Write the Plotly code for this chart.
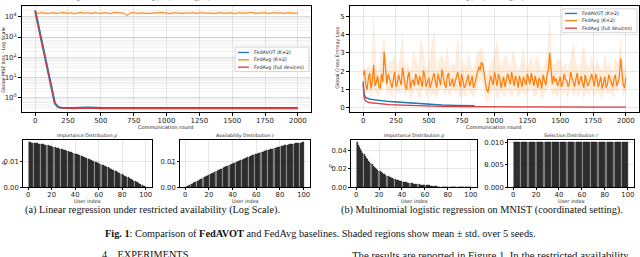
import numpy as np
import plotly.graph_objects as go

W, H = 640, 257

# ---------------- data ----------------
# Linear regression (top-left), log-scale loss
lr_rounds = [0, 25, 50, 75, 100, 125, 150, 175, 200, 300, 400, 500, 600, 700, 800, 900, 1000,
             1100, 1200, 1300, 1400, 1500, 1600, 1700, 1800, 1900, 2000]
lr_fedavot = [2.0e4, 3400, 590, 100, 17, 2.9, 0.55, 0.36, 0.33, 0.32, 0.34, 0.32, 0.32, 0.33,
              0.32, 0.32, 0.34, 0.32, 0.33, 0.32, 0.32, 0.34, 0.32, 0.32, 0.33, 0.32, 0.32]
lr_fedavg_full = [2.0e4, 3300, 570, 96, 16, 2.8, 0.53, 0.35, 0.32, 0.31, 0.31, 0.31, 0.31, 0.31,
                  0.31, 0.31, 0.31, 0.31, 0.31, 0.31, 0.31, 0.31, 0.31, 0.31, 0.31, 0.31, 0.31]
lr_fedavg_k2 = [1.55, 1.48, 1.60, 1.50, 1.42, 1.58, 1.52, 1.45, 1.62, 1.50, 1.47, 1.56, 1.40, 1.53,
                1.60, 1.49, 1.55, 1.44, 1.58, 1.51, 1.46, 1.57, 1.50, 1.43, 1.59, 1.52, 1.48, 1.50,
                1.15, 1.50, 1.60, 1.45, 1.53, 1.49, 1.58, 1.44, 1.52, 1.56, 1.47, 1.60, 1.50, 1.42,
                1.55, 1.50, 1.58, 1.46, 1.53, 1.49, 1.61, 1.45, 1.52, 1.57, 1.48, 1.55, 1.50, 1.44,
                1.59, 1.51, 1.47, 1.56, 1.50, 1.43, 1.58, 1.52, 1.48, 1.55, 1.60, 1.46, 1.53, 1.50,
                1.57, 1.45, 1.52, 1.58, 1.49, 1.55, 1.44, 1.60, 1.50, 1.53, 1.48]  # x 1e4
lr_fedavg_k2_rel_std = 0.12

# MNIST (top-right)
mn_fedavg_k2 = [1.78, 2.05, 1.25, 1.00, 1.62, 1.90, 1.05, 1.50, 2.35, 1.20,
                1.40, 1.75, 1.15, 1.05, 1.85, 1.40, 3.05, 2.00, 1.30, 1.85,
                1.60, 1.30, 1.10, 1.55, 1.95, 1.15, 1.35, 1.80, 1.50, 1.25,
                2.20, 1.65, 1.20, 1.00, 1.70, 1.95, 1.05, 1.40, 1.55, 1.20,
                1.85, 1.60, 1.25, 1.75, 1.45, 1.15, 2.05, 1.70, 1.15, 1.40,
                1.65, 1.10, 1.35, 1.60, 1.90, 1.45, 1.10, 1.85, 1.55, 1.25,
                2.10, 1.65, 1.30, 1.10, 1.70, 1.90, 1.20, 1.35, 1.60, 1.15,
                1.45, 1.70, 1.95, 1.50, 1.15, 1.85, 1.50, 1.10, 1.25, 1.55,
                1.80, 1.20, 1.40, 1.75, 1.10, 1.30, 1.65, 1.95, 2.25, 2.05,
                2.50, 2.35, 1.90, 1.40, 1.00, 0.85, 1.35, 1.75, 1.55, 1.25,
                1.95, 1.60, 1.20, 1.85, 1.60, 1.10, 1.40, 1.70, 1.15, 1.45,
                1.85, 1.60, 1.30, 1.95, 1.50, 1.20, 1.75, 1.50, 1.10, 1.75,
                1.45, 1.15, 1.70, 1.50, 1.25, 1.85, 1.55, 1.30, 1.90, 1.55,
                1.20, 1.75, 1.40, 1.10, 1.65, 1.45, 1.05, 1.80, 1.50, 1.25,
                1.80, 2.10, 3.00, 2.20, 1.30, 1.75, 1.45, 1.60, 1.20, 1.40,
                1.70, 1.15, 1.35, 1.85, 1.55, 1.50, 1.15, 1.35, 1.95, 1.65,
                1.40, 1.15, 1.60, 1.90, 1.25, 1.45, 1.75, 1.35, 1.10, 1.80,
                1.50, 1.20, 1.35, 1.55, 1.85, 1.50, 1.20, 1.85, 1.60, 1.15,
                1.45, 1.70, 1.05, 1.35, 1.70, 1.10, 1.30, 1.80, 1.55, 1.40,
                1.15, 1.60, 1.80, 1.20, 1.40, 1.65, 2.70, 1.90, 1.25, 1.10,
                1.65]
mn_fedavg_k2_hi = [2.2, 2.0, 2.4, 2.1, 5.2, 2.3, 2.0, 3.2, 3.9, 2.2,
                   2.5, 2.6, 3.0, 2.1, 2.8, 4.1, 2.0, 2.6, 1.9, 3.1,
                   2.7, 2.2, 3.9, 2.9, 2.1, 2.5, 3.3, 4.3, 2.0, 2.6,
                   3.0, 2.4, 3.4, 2.1, 2.5, 2.3, 4.2, 2.0, 2.7, 2.2,
                   3.0, 2.3, 2.1, 2.8, 3.1, 3.3, 2.9, 1.7, 2.2, 2.6,
                   2.9, 3.8, 2.4, 2.3, 2.9, 2.7, 2.2, 3.2, 2.6, 2.0,
                   2.5, 3.4, 2.1, 2.5, 2.8, 2.1, 3.0, 2.6, 1.9, 2.4,
                   2.8, 5.1, 2.3, 2.4, 2.6, 2.7, 2.2, 2.5, 2.0, 2.9,
                   3.6, 2.5, 2.1, 2.7, 3.5, 2.4, 2.2, 2.9, 2.1, 2.6,
                   2.3, 2.0, 3.0, 2.2, 2.5, 2.0, 2.8, 2.4, 4.0, 2.1, 2.3]
mn_fedavg_k2_lo = [1.4, 0.7, 1.0, 0.5, 1.0, 0.8, 0.6, 1.0, 1.6, 0.7,
                   0.9, 0.5, 1.1, 0.8, 0.8, 1.0, 0.6, 1.0, 0.4, 0.8,
                   1.0, 0.6, 0.5, 1.2, 0.5, 1.0, 0.6, 0.8, 0.5, 0.9,
                   1.2, 0.7, 0.9, 0.6, 1.0, 0.8, 0.9, 0.5, 0.8, 0.6,
                   1.0, 0.8, 0.5, 1.0, 1.4, 1.6, 0.9, 0.3, 0.6, 0.9,
                   1.1, 0.4, 0.9, 0.8, 0.5, 1.0, 0.7, 0.7, 1.0, 0.5,
                   0.8, 0.9, 0.6, 0.9, 1.1, 0.6, 0.7, 1.0, 0.4, 0.8,
                   1.0, 1.3, 0.7, 0.8, 0.5, 1.0, 0.7, 0.9, 0.5, 1.1,
                   0.6, 0.9, 0.6, 1.0, 0.4, 0.9, 0.7, 1.0, 0.6, 0.9,
                   0.8, 0.4, 1.0, 0.7, 0.9, 0.5, 1.0, 0.8, 1.5, 0.6, 1.0]

mn_avot_rounds = [0, 3, 8, 15, 25, 50, 100, 150, 200, 300, 400, 500, 600, 700, 800, 850]
mn_fedavot = [1.45, 1.0, 0.75, 0.62, 0.55, 0.48, 0.42, 0.39, 0.35, 0.30, 0.24, 0.19, 0.16, 0.14, 0.12, 0.12]
mn_fedavot_std = [0.06, 0.08, 0.07, 0.06, 0.05, 0.05, 0.04, 0.04, 0.04, 0.03, 0.03, 0.03, 0.02, 0.02, 0.02, 0.02]
mn_full_rounds = [0, 3, 8, 15, 25, 50, 100, 150, 200, 300, 400, 500, 600, 800, 1000, 1250, 1500, 1750, 2000]
mn_fedavg_full = [1.3, 0.8, 0.55, 0.42, 0.35, 0.29, 0.24, 0.21, 0.18, 0.15, 0.12, 0.10, 0.09, 0.07,
                  0.06, 0.05, 0.045, 0.04, 0.04]
mn_fedavg_full_std = [0.05, 0.07, 0.06, 0.05, 0.05, 0.04, 0.04, 0.03, 0.03, 0.03, 0.02, 0.02, 0.02,
                      0.02, 0.02, 0.02, 0.02, 0.02, 0.02]

users = list(range(1, 101))
lr_p = [0.01748, 0.01745, 0.01741, 0.01736, 0.01730, 0.01724, 0.01718, 0.01710, 0.01703, 0.01695,
        0.01686, 0.01677, 0.01668, 0.01658, 0.01648, 0.01638, 0.01627, 0.01616, 0.01605, 0.01594,
        0.01582, 0.01569, 0.01557, 0.01544, 0.01531, 0.01518, 0.01504, 0.01491, 0.01477, 0.01462,
        0.01448, 0.01433, 0.01418, 0.01403, 0.01388, 0.01372, 0.01356, 0.01340, 0.01324, 0.01307,
        0.01291, 0.01274, 0.01257, 0.01239, 0.01222, 0.01204, 0.01186, 0.01168, 0.01150, 0.01131,
        0.01113, 0.01094, 0.01075, 0.01056, 0.01036, 0.01017, 0.00997, 0.00977, 0.00957, 0.00937,
        0.00916, 0.00896, 0.00875, 0.00854, 0.00833, 0.00812, 0.00790, 0.00769, 0.00747, 0.00725,
        0.00703, 0.00681, 0.00658, 0.00636, 0.00613, 0.00590, 0.00568, 0.00544, 0.00521, 0.00498,
        0.00474, 0.00451, 0.00427, 0.00403, 0.00378, 0.00354, 0.00330, 0.00305, 0.00281, 0.00256,
        0.00231, 0.00206, 0.00181, 0.00155, 0.00130, 0.00104, 0.00078, 0.00052, 0.00026, 0.00005]
lr_r = [0.00005, 0.00026, 0.00052, 0.00078, 0.00104, 0.00130, 0.00155, 0.00181, 0.00206, 0.00231,
        0.00256, 0.00281, 0.00305, 0.00330, 0.00354, 0.00378, 0.00403, 0.00427, 0.00451, 0.00474,
        0.00498, 0.00521, 0.00544, 0.00568, 0.00590, 0.00613, 0.00636, 0.00658, 0.00681, 0.00703,
        0.00725, 0.00747, 0.00769, 0.00790, 0.00812, 0.00833, 0.00854, 0.00875, 0.00896, 0.00916,
        0.00937, 0.00957, 0.00977, 0.00997, 0.01017, 0.01036, 0.01056, 0.01075, 0.01094, 0.01113,
        0.01131, 0.01150, 0.01168, 0.01186, 0.01204, 0.01222, 0.01239, 0.01257, 0.01274, 0.01291,
        0.01307, 0.01324, 0.01340, 0.01356, 0.01372, 0.01388, 0.01403, 0.01418, 0.01433, 0.01448,
        0.01462, 0.01477, 0.01491, 0.01504, 0.01518, 0.01531, 0.01544, 0.01557, 0.01569, 0.01582,
        0.01594, 0.01605, 0.01616, 0.01627, 0.01638, 0.01648, 0.01658, 0.01668, 0.01677, 0.01686,
        0.01695, 0.01703, 0.01710, 0.01718, 0.01724, 0.01730, 0.01736, 0.01741, 0.01745, 0.01748]
mn_p = [0.0487, 0.0462, 0.0438, 0.0416, 0.0395, 0.0374, 0.0355, 0.0337, 0.0320, 0.0303,
        0.0288, 0.0273, 0.0259, 0.0246, 0.0233, 0.0221, 0.0210, 0.0199, 0.0189, 0.0179,
        0.0170, 0.0161, 0.0153, 0.0145, 0.0138, 0.0131, 0.0124, 0.0118, 0.0112, 0.0106,
        0.0100, 0.0095, 0.0090, 0.0086, 0.0081, 0.0077, 0.0073, 0.0069, 0.0066, 0.0063,
        0.0059, 0.0056, 0.0053, 0.0051, 0.0048, 0.0046, 0.0043, 0.0041, 0.0039, 0.0037,
        0.0035, 0.0033, 0.0032, 0.0030, 0.0029, 0.0027, 0.0026, 0.0024, 0.0023, 0.0022,
        0.0021, 0.0020, 0.0019, 0.0018, 0.0017, 0.0016, 0.0015, 0.0014, 0.0014, 0.0013,
        0, 0, 0, 0, 0, 0, 0, 0, 0, 0,
        0, 0, 0, 0, 0, 0, 0, 0, 0, 0,
        0, 0, 0, 0, 0, 0, 0, 0, 0, 0]
mn_r = [0.01] * 100

round_ticks = [0, 250, 500, 750, 1000, 1250, 1500, 1750, 2000]
log_tickvals = [1, 10, 100, 1000, 10000]
log_ticktext = ['10<sup>0</sup>', '10<sup>1</sup>', '10<sup>2</sup>', '10<sup>3</sup>', '10<sup>4</sup>']
user_ticks = [0, 20, 40, 60, 80, 100]

series_names = ['FedAVOT (K=2)', 'FedAvg (K=2)', 'FedAvg (full devices)']
BLUE, ORANGE, RED = '#1f77b4', '#ff7f0e', '#e03a3c'

FONT = 'DejaVu Sans'
TXT = '#222222'


def px_x(x):
    return x / W


def px_y(y):
    return 1 - y / H


fig = go.Figure()

# ---- top-left: linear regression ----
lr_grid = np.linspace(0, 2000, len(lr_fedavg_k2))
lr_k2 = np.array(lr_fedavg_k2) * 1e4
lr_hi = lr_k2 * (1 + lr_fedavg_k2_rel_std)
lr_lo = lr_k2 * (1 - lr_fedavg_k2_rel_std)
fig.add_trace(go.Scatter(x=np.concatenate([lr_grid, lr_grid[::-1]]),
                         y=np.concatenate([lr_hi, lr_lo[::-1]]), fill='toself',
                         fillcolor='rgba(255,127,14,0.2)', line=dict(width=0),
                         hoverinfo='skip', showlegend=False, xaxis='x', yaxis='y'))
fig.add_trace(go.Scatter(x=lr_rounds, y=lr_fedavot, mode='lines', line=dict(color=BLUE, width=2.2),
                         showlegend=False, xaxis='x', yaxis='y'))
fig.add_trace(go.Scatter(x=lr_grid, y=lr_k2, mode='lines', line=dict(color=ORANGE, width=1),
                         showlegend=False, xaxis='x', yaxis='y'))
fig.add_trace(go.Scatter(x=lr_rounds, y=lr_fedavg_full, mode='lines', line=dict(color=RED, width=1.2),
                         showlegend=False, xaxis='x', yaxis='y'))

# ---- top-right: MNIST ----
mn_grid = np.linspace(0, 2000, len(mn_fedavg_k2))
mn_band_grid = np.linspace(0, 2000, len(mn_fedavg_k2_hi))


def band(xs, lo, hi, color, ax):
    xs = np.asarray(xs)
    fig.add_trace(go.Scatter(x=np.concatenate([xs, xs[::-1]]),
                             y=np.concatenate([np.asarray(hi), np.asarray(lo)[::-1]]),
                             fill='toself', fillcolor=color, line=dict(width=0),
                             hoverinfo='skip', showlegend=False, xaxis=ax[0], yaxis=ax[1]))


av = np.array(mn_fedavot); av_s = np.array(mn_fedavot_std)
fu = np.array(mn_fedavg_full); fu_s = np.array(mn_fedavg_full_std)
band(mn_avot_rounds, av - av_s, av + av_s, 'rgba(31,119,180,0.2)', ('x2', 'y2'))
fig.add_trace(go.Scatter(x=mn_avot_rounds, y=mn_fedavot, mode='lines', line=dict(color=BLUE, width=1.3),
                         showlegend=False, xaxis='x2', yaxis='y2'))
band(mn_band_grid, mn_fedavg_k2_lo, mn_fedavg_k2_hi, 'rgba(255,127,14,0.15)', ('x2', 'y2'))
fig.add_trace(go.Scatter(x=mn_grid, y=mn_fedavg_k2, mode='lines', line=dict(color=ORANGE, width=1.25),
                         showlegend=False, xaxis='x2', yaxis='y2'))
band(mn_full_rounds, fu - fu_s, fu + fu_s, 'rgba(224,58,60,0.2)', ('x2', 'y2'))
fig.add_trace(go.Scatter(x=mn_full_rounds, y=mn_fedavg_full, mode='lines', line=dict(color=RED, width=1.3),
                         showlegend=False, xaxis='x2', yaxis='y2'))

# ---- bars ----
bar_style = dict(marker=dict(color='#333333', line=dict(color='#111111', width=0.4)), width=0.8,
                 showlegend=False)
fig.add_trace(go.Bar(x=users, y=lr_p, xaxis='x3', yaxis='y3', **bar_style))
fig.add_trace(go.Bar(x=users, y=lr_r, xaxis='x4', yaxis='y4', **bar_style))
fig.add_trace(go.Bar(x=users, y=mn_p, xaxis='x5', yaxis='y5', **bar_style))
fig.add_trace(go.Bar(x=users, y=mn_r, xaxis='x6', yaxis='y6', **bar_style))

GRID = 'rgba(0,0,0,0.09)'
tickfont = dict(family=FONT, size=7, color=TXT)
common = dict(showline=True, mirror=True, linecolor='#000000', linewidth=0.8, ticks='outside',
              ticklen=3, tickwidth=0.7, tickcolor='#000000', tickfont=tickfont, showgrid=True,
              gridcolor=GRID, gridwidth=0.6, zeroline=False)
xcommon = dict(common, ticklabelstandoff=-1)
bot_common = dict(common, ticklen=2, tickfont=dict(family=FONT, size=6.8, color=TXT))
bot_xcommon = dict(bot_common, ticklabelstandoff=-1)

top_y = [px_y(113), px_y(5)]
bot_y = [px_y(190), px_y(142)]
layout = dict(
    width=W, height=H, margin=dict(l=0, r=0, t=0, b=0), paper_bgcolor='white', plot_bgcolor='white',
    showlegend=False, bargap=0,
    xaxis=dict(domain=[px_x(22), px_x(311)], range=[-100, 2100], tickvals=round_ticks, anchor='y', **xcommon),
    yaxis=dict(domain=top_y, type='log', range=[-0.68, 4.53], tickvals=log_tickvals, ticktext=log_ticktext,
               anchor='x', minor=dict(showgrid=True, gridcolor='rgba(0,0,0,0.05)', gridwidth=0.5,
                                      ticks='', dtick='D1'), **common),
    xaxis2=dict(domain=[px_x(350), px_x(639)], range=[-100, 2100], tickvals=round_ticks, anchor='y2', **xcommon),
    yaxis2=dict(domain=top_y, range=[-0.21, 5.56], tickvals=[0, 1, 2, 3, 4, 5], anchor='x2', **common),
    xaxis3=dict(domain=[px_x(23), px_x(152)], range=[-4.4, 105.4], tickvals=user_ticks, anchor='y3', **bot_xcommon),
    yaxis3=dict(domain=bot_y, range=[0, 0.0184], tickvals=[0, 0.01], tickformat='.2f', anchor='x3', **bot_common),
    xaxis4=dict(domain=[px_x(180), px_x(310)], range=[-4.4, 105.4], tickvals=user_ticks, anchor='y4', **bot_xcommon),
    yaxis4=dict(domain=bot_y, range=[0, 0.0184], tickvals=[0, 0.01], tickformat='.2f', anchor='x4', **bot_common),
    xaxis5=dict(domain=[px_x(351), px_x(477)], range=[-4.4, 105.4], tickvals=user_ticks, anchor='y5', **bot_xcommon),
    yaxis5=dict(domain=bot_y, range=[0, 0.0511], tickvals=[0, 0.02, 0.04], tickformat='.2f', anchor='x5', **bot_common),
    xaxis6=dict(domain=[px_x(508), px_x(634)], range=[-4.4, 105.4], tickvals=user_ticks, anchor='y6', **bot_xcommon),
    yaxis6=dict(domain=bot_y, range=[0, 0.0105], tickvals=[0, 0.005, 0.01], tickformat='.3f', anchor='x6', **bot_common),
)
fig.update_layout(**layout)

anns = []
shapes = []


def ann(x, y, text, size=5, angle=0, xanchor='center', yanchor='middle', family=FONT, color=TXT):
    anns.append(dict(x=px_x(x), y=px_y(y), xref='paper', yref='paper', text=text, showarrow=False,
                     textangle=angle, xanchor=xanchor, yanchor=yanchor,
                     font=dict(family=family, size=size, color=color)))


# titles
ann(167, 3.5, 'Linear Regression — FedAVOT vs FedAvg (K=2) vs FedAvg(full) — mean ± std over 5 seeds',
    size=5, yanchor='bottom')
ann(495, 3.5, 'MNIST — FedAVOT vs FedAvg (K=2) vs FedAvg(full) — mean ± std over 5 seeds',
    size=5, yanchor='bottom')
ann(87, 137.5, 'Importance Distribution <i>p</i>', size=4.7)
ann(245, 137.5, 'Availability Distribution <i>r</i>', size=4.7)
ann(414, 137.5, 'Importance Distribution <i>p</i>', size=4.7)
ann(571, 137.5, 'Selection Distribution <i>r</i>', size=4.7)
# axis labels
ann(4, 60, 'Global MSE loss - Log Scale', size=4.8, angle=-90)
ann(338, 58, 'Global Cross Entropy Loss', size=4.8, angle=-90)
ann(166, 128, 'Communication round', size=5)
ann(494, 128, 'Communication round', size=5)
for cx in (87, 245, 414, 571):
    ann(cx, 203.5, 'User index', size=5)
ann(4, 166, '<i>p</i>', size=5.5, angle=-90)
ann(172, 166, '<i>r</i>', size=5.5, angle=-90)
ann(331, 169, '<i>p</i>', size=5.5, angle=-90)
ann(486, 167, '<i>r</i>', size=5.5, angle=-90)

# legends
legend_specs = [((235, 47, 309, 72), [52.5, 60, 67.5], 238, 249, 252),
                ((562, 8, 637, 32), [12.7, 20, 27.7], 565, 577, 580)]
for (x0, y0, x1, y1), rows, lx0, lx1, tx in legend_specs:
    shapes.append(dict(type='rect', xref='paper', yref='paper', x0=px_x(x0), x1=px_x(x1), y0=px_y(y1),
                       y1=px_y(y0), fillcolor='rgba(255,255,255,0.85)', line=dict(color='#cccccc', width=0.8)))
    for ry, name, col in zip(rows, series_names, [BLUE, ORANGE, RED]):
        shapes.append(dict(type='line', xref='paper', yref='paper', x0=px_x(lx0), x1=px_x(lx1),
                           y0=px_y(ry), y1=px_y(ry), line=dict(color=col, width=1.3)))
        ann(tx, ry, name, size=4.8, xanchor='left')

# captions
SERIF = 'Liberation Serif'
ann(152, 213, '(a) Linear regression under restricted availability (Log Scale).', size=10.3, family=SERIF,
    color='#111')
ann(482, 213, '(b) Multinomial logistic regression on MNIST (coordinated setting).', size=10.3, family=SERIF,
    color='#111')
ann(320, 237, '<b>Fig. 1</b>: Comparison of <b>FedAVOT</b> and FedAvg baselines. Shaded regions show mean ± std. over 5 seeds.',
    size=10.3, family=SERIF, color='#111')
ann(100, 251, '4.   EXPERIMENTS', size=10.3, family=SERIF, color='#111', xanchor='left', yanchor='top')
ann(350, 251, 'The results are reported in Figure 1. In the restricted availability', size=10.8, family=SERIF,
    color='#111', xanchor='left', yanchor='top')

fig.update_layout(annotations=anns, shapes=shapes)
fig.write_html('out.html', config={'displayModeBar': False},
               post_script="document.body.style.margin='0px';document.body.style.overflow='hidden';")
